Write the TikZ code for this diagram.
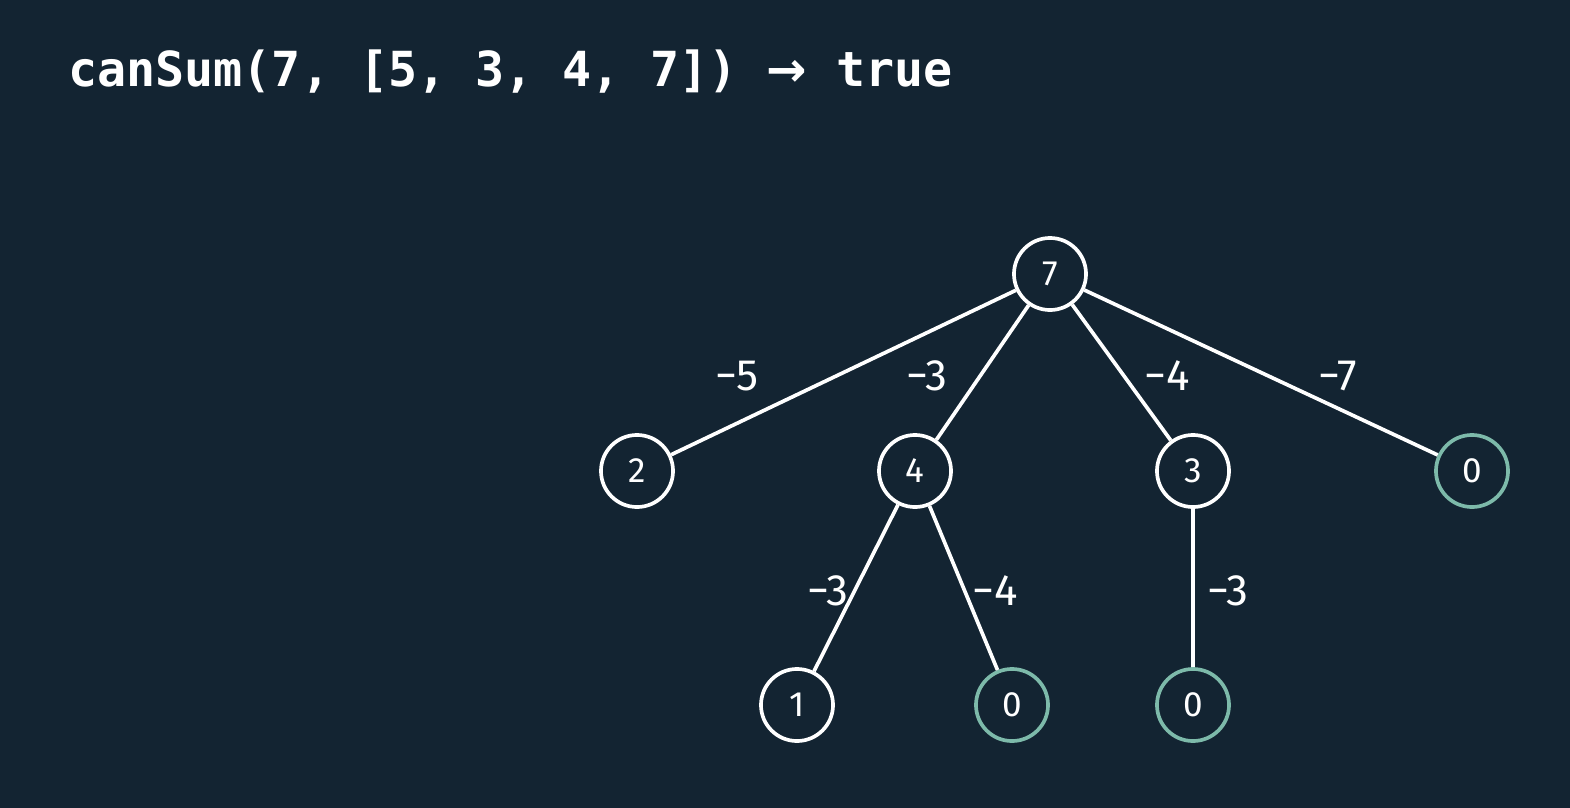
\documentclass[tikz,border=0pt]{standalone}
\usepackage{fontspec}
\setmainfont{Fira Sans}
\setmonofont{DejaVu Sans Mono}
\newfontfamily\muiten{DejaVu Sans}
\usepackage{tikz}
\usetikzlibrary{positioning}

\definecolor{nen}{RGB}{19,36,50}
\definecolor{xanh}{RGB}{125,186,170}

\tikzset{
    nut/.style={circle, draw=white, line width=2.1pt, minimum size=41pt,
        inner sep=0pt, text=white, font=\fontsize{20}{22}\selectfont},
    nutxanh/.style={nut, draw=xanh},
    canh/.style={draw=white, line width=2.1pt},
    nhan/.style={text=white, font=\fontsize{25}{27}\selectfont}
}

\begin{document}
\begin{tikzpicture}[x=0.02cm, y=-0.02cm]

    % =================================================================
    % 1. NỀN VÀ TIÊU ĐỀ
    % =================================================================
    \useasboundingbox[fill=nen] (0,0) rectangle (1570,808);
    \node[anchor=west, inner sep=0pt, text=white,
        font=\ttfamily\bfseries\fontsize{27.5}{30}\selectfont]
        (tieude) at (68,72) {canSum(7, [5, 3, 4, 7]) {\muiten\bfseries →} true};

    % =================================================================
    % 2. CÁC NÚT CỦA CÂY
    % =================================================================
    \node[nut] (n7) at (1050,274) {7};

    \node[nut] (n2) at (637,471) {2};
    \node[nut] (n4) at (915,471) {4};
    \node[nut] (n3) at (1193,471) {3};
    \node[nutxanh] (n0a) at (1472,471) {0};

    \node[nut] (n1) at (797,705) {1};
    \node[nutxanh] (n0b) at (1012,705) {0};
    \node[nutxanh] (n0c) at (1193,705) {0};

    % =================================================================
    % 3. CÁC CẠNH
    % =================================================================
    \draw[canh] (n7) -- (n2);
    \draw[canh] (n7) -- (n4);
    \draw[canh] (n7) -- (n3);
    \draw[canh] (n7) -- (n0a);

    \draw[canh] (n4) -- (n1);
    \draw[canh] (n4) -- (n0b);
    \draw[canh] (n3) -- (n0c);

    % =================================================================
    % 4. NHÃN TRÊN CÁC CẠNH
    % =================================================================
    \node[nhan] (l5) at (737,376) {−5};
    \node[nhan] (l3) at (927,376) {−3};
    \node[nhan] (l4) at (1167,376) {−4};
    \node[nhan] (l7) at (1338,376) {−7};

    \node[nhan] (l43) at (828,591) {−3};
    \node[nhan] (l44) at (995,591) {−4};
    \node[nhan] (l33) at (1228,591) {−3};

\end{tikzpicture}
\end{document}
